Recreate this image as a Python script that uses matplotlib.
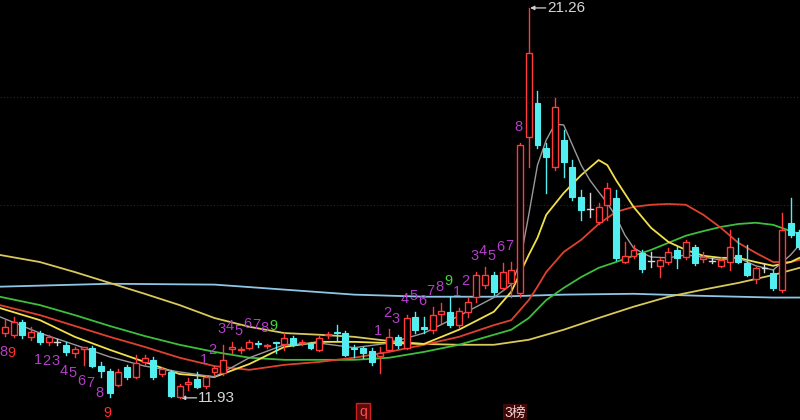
import matplotlib

matplotlib.use("Agg")
import matplotlib.pyplot as plt
from matplotlib.patches import Rectangle
import numpy as np

plt.rcParams["font.family"] = ["Liberation Sans", "Noto Sans CJK SC", "DejaVu Sans"]

# daily candles, oldest first
OPEN = [13.48, 13.44, 13.75, 13.39, 13.48, 13.27, 13.27, 13.20, 13.01, 13.10,
        13.13, 12.69, 12.57, 12.24, 12.67, 12.43, 12.79, 12.84, 12.50, 12.55,
        11.95, 12.26, 12.38, 12.22, 12.55, 12.53, 13.10, 13.08, 13.13, 13.24,
        13.17, 13.27, 13.22, 13.36, 13.24, 13.24, 13.08, 13.44, 13.51, 13.48,
        13.13, 13.13, 13.05, 12.93, 13.08, 13.39, 13.13, 13.87, 13.63, 13.56,
        13.94, 13.99, 13.67, 13.99, 14.35, 14.64, 14.87, 14.56, 14.68, 14.45,
        18.17, 18.99, 17.91, 17.46, 18.10, 17.46, 16.74, 16.44, 16.14, 16.55,
        16.71, 15.18, 15.33, 15.40, 15.20, 15.09, 15.18, 15.47, 15.30, 15.54,
        15.25, 15.21, 15.09, 15.18, 15.35, 15.16, 14.78, 15.03, 14.92, 14.52,
        16.12, 15.90]
HIGH = [13.79, 13.87, 13.79, 13.63, 13.53, 13.44, 13.34, 13.27, 13.15, 13.15,
        13.17, 12.79, 12.62, 12.62, 12.72, 12.96, 12.96, 12.91, 12.67, 12.60,
        12.26, 12.41, 12.55, 12.45, 12.69, 13.20, 13.27, 13.15, 13.32, 13.29,
        13.22, 13.27, 13.48, 13.41, 13.32, 13.27, 13.41, 13.51, 13.67, 13.53,
        13.20, 13.15, 13.13, 13.15, 13.58, 13.44, 13.91, 13.99, 13.87, 14.11,
        14.20, 14.35, 14.08, 14.35, 14.94, 15.06, 14.94, 15.16, 15.18, 18.03,
        21.26, 19.27, 18.03, 19.11, 18.34, 17.62, 16.90, 16.83, 16.59, 17.07,
        16.90, 15.66, 15.59, 15.47, 15.42, 15.28, 15.52, 15.54, 15.71, 15.59,
        15.42, 15.28, 15.30, 15.95, 15.76, 15.59, 15.06, 15.13, 14.99, 16.35,
        16.71, 15.95]
LOW = [13.41, 13.39, 13.36, 13.32, 13.22, 13.20, 13.20, 12.96, 12.91, 12.72,
       12.67, 12.43, 11.95, 12.22, 12.38, 12.41, 12.72, 12.38, 12.45, 11.95,
       11.93, 12.12, 12.17, 12.17, 12.48, 12.48, 13.01, 13.01, 13.10, 13.15,
       13.13, 13.01, 13.08, 13.17, 13.20, 13.10, 13.05, 13.36, 13.32, 12.93,
       12.91, 12.89, 12.72, 12.53, 13.05, 13.13, 13.10, 13.48, 13.48, 13.48,
       13.72, 13.63, 13.63, 13.87, 14.23, 14.56, 14.40, 14.52, 14.35, 14.35,
       17.46, 17.91, 16.83, 17.38, 17.21, 16.67, 16.19, 16.26, 16.09, 16.19,
       15.23, 15.16, 15.28, 14.94, 15.06, 14.82, 15.13, 15.04, 15.25, 15.11,
       15.18, 15.16, 15.06, 14.99, 15.16, 14.85, 14.68, 14.94, 14.52, 14.47,
       15.78, 15.49]
CLOSE = [13.63, 13.75, 13.44, 13.51, 13.27, 13.39, 13.27, 13.03, 13.10, 13.15,
         12.69, 12.57, 12.05, 12.55, 12.43, 12.77, 12.89, 12.43, 12.62, 11.98,
         12.22, 12.31, 12.19, 12.43, 12.65, 12.84, 13.15, 13.10, 13.27, 13.22,
         13.20, 13.24, 13.36, 13.20, 13.27, 13.13, 13.36, 13.46, 13.48, 12.96,
         13.10, 13.01, 12.79, 13.01, 13.39, 13.20, 13.84, 13.56, 13.58, 13.91,
         14.01, 13.67, 14.01, 14.23, 14.87, 14.87, 14.47, 14.94, 14.99, 17.98,
         20.18, 17.98, 17.69, 18.89, 17.57, 16.74, 16.43, 16.44, 16.50, 16.95,
         15.28, 15.33, 15.47, 15.01, 15.20, 15.23, 15.42, 15.28, 15.66, 15.16,
         15.30, 15.21, 15.23, 15.54, 15.18, 14.87, 15.04, 15.03, 14.56, 15.95,
         15.83, 15.54]

# moving-average lines (bar index, price)
MA5_IDX = [-0.6, 4, 8, 12, 16, 20, 24, 28, 32, 36, 40, 44, 48, 52, 56, 58, 59,
           60, 61, 62, 63, 64, 65, 66, 67, 68, 69, 70, 71, 72, 73, 74, 76, 78,
           80, 82, 84, 86, 88, 90, 91]
MA5 = [13.87, 13.48, 13.20, 12.91, 12.69, 12.55, 12.43, 12.89, 13.20, 13.24,
       13.13, 13.24, 13.48, 13.89, 14.33, 14.64, 15.18, 16.31, 17.50, 18.10,
       18.48, 18.46, 17.98, 17.50, 17.14, 16.86, 16.59, 16.26, 15.83, 15.52,
       15.40, 15.30, 15.28, 15.35, 15.30, 15.23, 15.28, 15.09, 14.99, 15.35,
       15.59]
MA10_IDX = [-0.6, 4, 8, 12, 16, 20, 24, 28, 32, 36, 40, 44, 48, 52, 56, 58, 60,
            61, 62, 64, 66, 68, 69, 70, 72, 74, 76, 78, 80, 82, 84, 86, 88, 90,
            91]
MA10 = [14.08, 13.79, 13.39, 13.08, 12.79, 12.50, 12.43, 12.74, 13.15, 13.27,
        13.27, 13.24, 13.22, 13.56, 13.99, 14.47, 15.35, 15.76, 16.31, 16.83,
        17.26, 17.62, 17.50, 17.14, 16.50, 16.00, 15.66, 15.47, 15.33, 15.28,
        15.28, 15.18, 15.09, 15.18, 15.28]
MA20_IDX = [-0.6, 4, 8, 12, 16, 20, 24, 28, 32, 36, 40, 44, 48, 52, 56, 58, 60,
            61, 62, 64, 66, 68, 70, 72, 74, 76, 78, 80, 82, 84, 86, 88, 90, 91]
MA20 = [14.15, 13.91, 13.65, 13.39, 13.15, 12.89, 12.69, 12.60, 12.72, 12.79,
        12.89, 13.03, 13.20, 13.39, 13.67, 13.79, 14.27, 14.59, 14.94, 15.42,
        15.71, 16.09, 16.38, 16.50, 16.55, 16.57, 16.55, 16.31, 16.00, 15.64,
        15.40, 15.18, 15.18, 15.23]
MA30_IDX = [-0.6, 4, 8, 12, 16, 20, 24, 28, 32, 36, 40, 44, 48, 52, 56, 58, 60,
            62, 64, 66, 68, 70, 72, 74, 76, 78, 80, 82, 84, 86, 88, 90, 91]
MA30 = [14.35, 14.15, 13.91, 13.65, 13.41, 13.20, 13.03, 12.89, 12.84, 12.84,
        12.84, 12.89, 13.03, 13.20, 13.44, 13.56, 13.84, 14.27, 14.56, 14.82,
        15.04, 15.18, 15.33, 15.47, 15.64, 15.81, 15.92, 16.02, 16.09, 16.12,
        16.07, 15.92, 15.85]
MA120_IDX = [-0.6, 4, 8, 12, 16, 20, 24, 28, 32, 36, 40, 44, 48, 52, 56, 60,
             64, 68, 72, 76, 80, 84, 88, 91]
MA120 = [15.35, 15.18, 14.94, 14.68, 14.42, 14.15, 13.84, 13.63, 13.48, 13.44,
         13.39, 13.29, 13.22, 13.20, 13.20, 13.32, 13.56, 13.84, 14.11, 14.35,
         14.52, 14.68, 14.87, 15.04]
MA250_IDX = [-0.6, 12, 24, 32, 40, 48, 56, 64, 72, 80, 88, 91]
MA250 = [14.59, 14.66, 14.64, 14.52, 14.40, 14.35, 14.35, 14.40, 14.42, 14.37,
         14.33, 14.33]

# TD-style count labels: (bar index, digit); "below" = buy setup, "above" = sell setup
TD_BELOW = [(0, "8"), (1, "9"), (4, "1"), (5, "2"), (6, "3"), (7, "4"), (8, "5"),
            (9, "6"), (10, "7"), (11, "8"), (12, "9")]
TD_ABOVE = [(23, "1"), (24, "2"), (25, "3"), (26, "4"), (27, "5"), (28, "6"),
            (29, "7"), (30, "8"), (31, "9"), (43, "1"), (44, "2"), (45, "3"),
            (46, "4"), (47, "5"), (48, "6"), (49, "7"), (50, "8"), (51, "9"),
            (52, "1"), (53, "2"), (54, "3"), (55, "4"), (56, "5"), (57, "6"),
            (58, "7"), (59, "8"), (60, "9")]

GRID_LEVELS = [19.13, 16.55]

UP = "#ff3b3b"
DOWN = "#52eef0"
FLAT = "#d8d8d8"
PURPLE = "#b23fc8"


def draw_candles(ax):
    w = 0.68
    for i, (o, h, l, c) in enumerate(zip(OPEN, HIGH, LOW, CLOSE)):
        top, bot = max(o, c), min(o, c)
        if c > o:
            col = UP
            ax.plot([i, i], [top, h], color=col, lw=1.0, zorder=3)
            ax.plot([i, i], [l, bot], color=col, lw=1.0, zorder=3)
            ax.add_patch(Rectangle((i - w / 2, bot), w, top - bot, facecolor="black",
                                   edgecolor=col, lw=1.0, zorder=4))
        elif c < o:
            col = DOWN
            ax.plot([i, i], [l, h], color=col, lw=1.0, zorder=3)
            ax.add_patch(Rectangle((i - w / 2, bot), w, top - bot, facecolor=col,
                                   edgecolor=col, lw=0.8, zorder=4))
        else:
            ax.plot([i, i], [l, h], color=FLAT, lw=1.0, zorder=3)
            ax.plot([i - w / 2, i + w / 2], [c, c], color=FLAT, lw=1.0, zorder=4)


def draw_td(ax):
    for i, t in TD_BELOW:
        col = "#ff3030" if t == "9" else PURPLE
        ax.annotate(t, (i, LOW[i]), xytext=(-2, -16), textcoords="offset pixels",
                    ha="center", va="center", color=col, fontsize=10.5, zorder=6)
    for i, t in TD_ABOVE:
        col = "#3fd83f" if t == "9" else PURPLE
        ax.annotate(t, (i, HIGH[i]), xytext=(-2, 16), textcoords="offset pixels",
                    ha="center", va="center", color=col, fontsize=10.5, zorder=6,
                    annotation_clip=False)


def main():
    fig = plt.figure(figsize=(8, 4.2), dpi=100, facecolor="black")
    ax = fig.add_axes([0, 0, 1, 1])
    ax.set_facecolor("black")
    ax.set_xlim(-0.57, 91.07)
    ax.set_ylim(11.40, 21.45)
    ax.axis("off")

    for lvl in GRID_LEVELS:
        ax.axhline(lvl, color="#5c1414", lw=0.8, ls=(0, (1, 2)), zorder=1)

    ax.plot(MA250_IDX, MA250, color="#8ec6e6", lw=1.3, zorder=2)
    ax.plot(MA120_IDX, MA120, color="#d9c85a", lw=1.3, zorder=2)
    ax.plot(MA30_IDX, MA30, color="#3cbf3c", lw=1.3, zorder=2)
    ax.plot(MA20_IDX, MA20, color="#e0412e", lw=1.3, zorder=2)
    ax.plot(MA10_IDX, MA10, color="#f2e04a", lw=1.3, zorder=2)
    ax.plot(MA5_IDX, MA5, color="#9a9a9a", lw=1.0, zorder=2)

    draw_candles(ax)
    draw_td(ax)

    # highest / lowest price markers
    hi = int(np.argmax(HIGH))
    lo = int(np.argmin(LOW))
    for idx, val in ((hi, HIGH[hi]), (lo, LOW[lo])):
        ax.annotate("", xy=(idx, val), xytext=(17, 0), textcoords="offset pixels",
                    arrowprops=dict(arrowstyle="-|>", color="#d0d0d0", lw=0.9,
                                    mutation_scale=6, shrinkA=0, shrinkB=1))
        ax.annotate(f"{val:.2f}", (idx, val), xytext=(18, 0), textcoords="offset pixels",
                    ha="left", va="center", color="#d6d6d6", fontsize=11)

    # event badges at the bottom edge
    ax.text(41, 11.58, "q", ha="center", va="center", color="#ff5050", fontsize=10,
            bbox=dict(boxstyle="square,pad=0.2", fc="#5a0a0a", ec="#d02020", lw=1))
    ax.text(58.4, 11.58, "3榜", ha="center", va="center", color="#f0d0d0", fontsize=10,
            bbox=dict(boxstyle="square,pad=0.1", fc="#400808", ec="none"))

    fig.savefig("out.png", dpi=100, facecolor="black")


if __name__ == "__main__":
    main()
